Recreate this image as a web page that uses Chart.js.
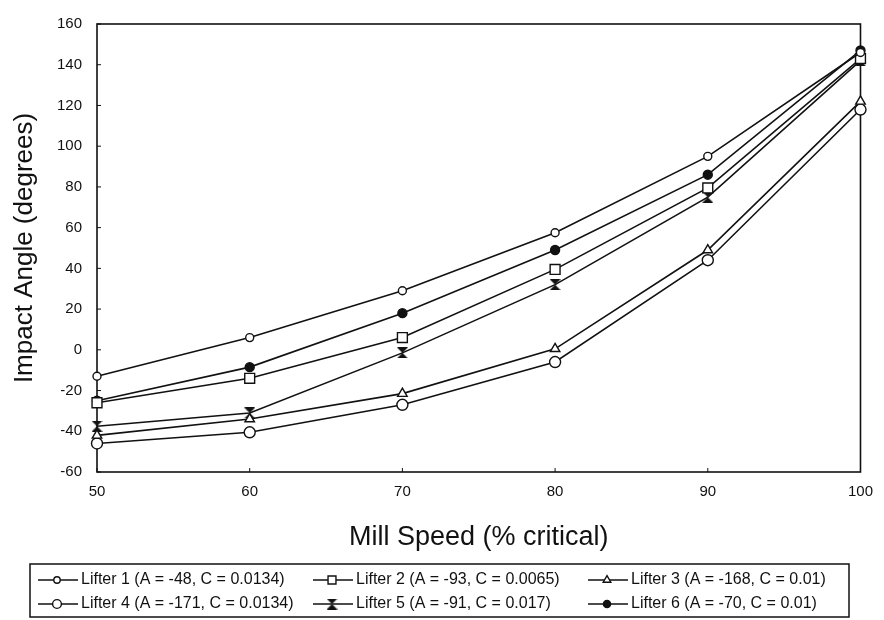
<!DOCTYPE html>
<html>
<head>
<meta charset="utf-8">
<script src="https://cdn.jsdelivr.net/npm/chart.js@4.4.0/dist/chart.umd.min.js"></script>
<style>
  html, body { margin: 0; padding: 0; background: #fff; }
  #wrap { width: 884px; height: 620px; }
</style>
</head>
<body>
<div id="wrap"><canvas id="grafico" width="884" height="620"></canvas></div>
<script>
// velocidad del molino (% de la critica)
const millSpeed = [50, 60, 70, 80, 90, 100];

// angulo de impacto (grados) de cada levantador
const lifter1 = [-13, 6, 29, 57.5, 95, 146];
const lifter2 = [-26, -14, 6, 39.5, 79.5, 143];
const lifter3 = [-42, -34, -21.5, 0.5, 49, 122];
const lifter4 = [-46, -40.5, -27, -6, 44, 118];
const lifter5 = [-37.5, -31, -1.5, 32, 75, 142];
const lifter6 = [-25, -8.5, 18, 49, 86, 147];

const lifterNames = [
  'Lifter 1 (A = -48, C = 0.0134)',
  'Lifter 2 (A = -93, C = 0.0065)',
  'Lifter 3 (A = -168, C = 0.01)',
  'Lifter 4 (A = -171, C = 0.0134)',
  'Lifter 5 (A = -91, C = 0.017)',
  'Lifter 6 (A = -70, C = 0.01)'
];

// limites de los ejes
const xTicks = { min: 50, max: 100, step: 10 };
const yTicks = { min: -60, max: 160, step: 20 };

const tinta = '#111';
const fuente = '"Liberation Sans", Arial, sans-serif';

// marcador tipo reloj de arena para el levantador 5
const reloj = document.createElement('canvas');
reloj.width = 11;
reloj.height = 11;
const rc = reloj.getContext('2d');
rc.fillStyle = tinta;
rc.beginPath();
rc.moveTo(0, 0); rc.lineTo(11, 0); rc.lineTo(5.5, 5.5); rc.closePath();
rc.moveTo(0, 11); rc.lineTo(11, 11); rc.lineTo(5.5, 5.5); rc.closePath();
rc.fill();

const estilos = [
  { pointStyle: 'circle', radius: 4, fill: '#fff' },
  { pointStyle: 'rect', radius: 7, fill: '#fff' },
  { pointStyle: 'triangle', radius: 5.5, fill: '#fff' },
  { pointStyle: 'circle', radius: 5.5, fill: '#fff' },
  { pointStyle: reloj, radius: 5, fill: tinta },
  { pointStyle: 'circle', radius: 4.5, fill: tinta }
];

const series = [lifter1, lifter2, lifter3, lifter4, lifter5, lifter6];

const datasets = series.map((vals, i) => ({
  label: lifterNames[i],
  data: vals.map((v, j) => ({ x: millSpeed[j], y: v })),
  borderColor: tinta,
  borderWidth: 1.6,
  pointStyle: estilos[i].pointStyle,
  pointRadius: estilos[i].radius,
  pointBackgroundColor: estilos[i].fill,
  pointBorderColor: tinta,
  pointBorderWidth: 1.4,
  tension: 0,
  clip: false
}));

// marco del area de trazado y marcas hacia adentro
const marco = {
  id: 'marco',
  beforeDatasetsDraw(chart) {
    const { ctx, chartArea: a, scales } = chart;
    ctx.save();
    ctx.strokeStyle = tinta;
    ctx.lineWidth = 1.6;
    ctx.strokeRect(a.left, a.top, a.right - a.left, a.bottom - a.top);
    ctx.lineWidth = 1;
    scales.y.ticks.forEach(t => {
      const y = scales.y.getPixelForValue(t.value);
      ctx.beginPath(); ctx.moveTo(a.left, y); ctx.lineTo(a.left + 4, y); ctx.stroke();
    });
    scales.x.ticks.forEach(t => {
      const x = scales.x.getPixelForValue(t.value);
      ctx.beginPath(); ctx.moveTo(x, a.bottom); ctx.lineTo(x, a.bottom - 4); ctx.stroke();
    });
    ctx.restore();
  }
};

// leyenda en caja de 3 columnas x 2 filas
const leyendaCaja = {
  id: 'leyendaCaja',
  afterDraw(chart, args, opts) {
    const ctx = chart.ctx;
    ctx.save();
    ctx.strokeStyle = tinta;
    ctx.lineWidth = 1.5;
    ctx.strokeRect(opts.left, opts.top, opts.width, opts.height);
    ctx.font = opts.font;
    ctx.textBaseline = 'middle';
    chart.data.datasets.forEach((ds, i) => {
      const x = opts.cols[i % 3];
      const y = opts.rows[Math.floor(i / 3)];
      ctx.strokeStyle = tinta;
      ctx.lineWidth = 1.5;
      ctx.beginPath(); ctx.moveTo(x, y); ctx.lineTo(x + 40, y); ctx.stroke();
      ctx.fillStyle = ds.pointBackgroundColor;
      ctx.lineWidth = ds.pointBorderWidth;
      Chart.helpers.drawPoint(ctx, {
        pointStyle: ds.pointStyle,
        radius: ds.pointRadius * 0.8,
        borderWidth: ds.pointBorderWidth,
        rotation: 0
      }, x + 19, y);
      ctx.fillStyle = tinta;
      ctx.fillText(ds.label, x + 43, y);
    });
    ctx.restore();
  }
};

new Chart(document.getElementById('grafico'), {
  type: 'line',
  data: { datasets },
  plugins: [marco, leyendaCaja],
  options: {
    responsive: false,
    animation: false,
    devicePixelRatio: 1,
    layout: { padding: { top: 23, right: 16, left: 0, bottom: 0 } },
    plugins: {
      legend: { display: false },
      tooltip: { enabled: false },
      leyendaCaja: {
        left: 30, top: 564, width: 819, height: 53,
        cols: [38, 313, 588],
        rows: [580, 604],
        font: '16px ' + fuente
      }
    },
    scales: {
      x: {
        type: 'linear',
        min: xTicks.min,
        max: xTicks.max,
        grid: { display: false, drawTicks: false },
        border: { display: false },
        ticks: { stepSize: xTicks.step, padding: 11, color: tinta, font: { family: fuente, size: 15 } },
        title: {
          display: true,
          text: 'Mill Speed (% critical)',
          color: tinta,
          font: { family: fuente, size: 27 },
          padding: { top: 0, bottom: 66 }
        },
        afterFit(s) { s.height = 148; }
      },
      y: {
        min: yTicks.min,
        max: yTicks.max,
        grid: { display: false, drawTicks: false },
        border: { display: false },
        ticks: { stepSize: yTicks.step, padding: 15, color: tinta, font: { family: fuente, size: 15 } },
        title: {
          display: true,
          text: 'Impact Angle (degrees)',
          color: tinta,
          font: { family: fuente, size: 26 },
          padding: { top: 9, bottom: 0 }
        },
        afterFit(s) { s.width = 97; }
      }
    }
  }
});
</script>
</body>
</html>
